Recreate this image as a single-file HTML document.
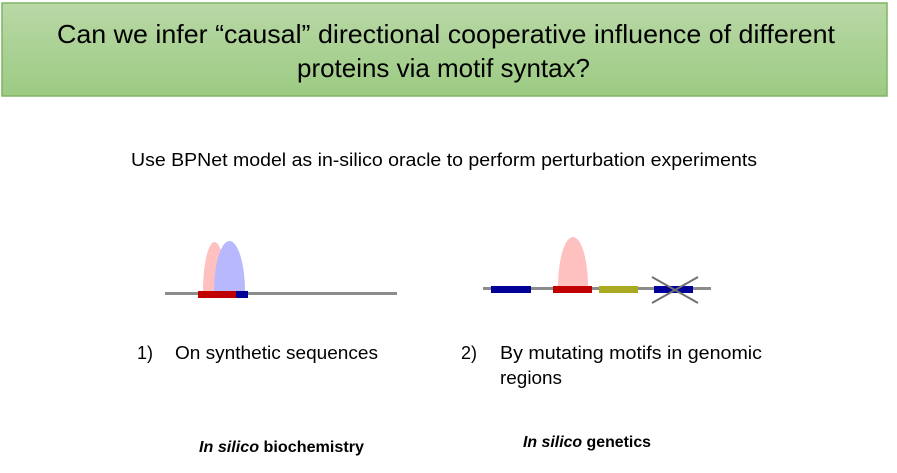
<!DOCTYPE html>
<html><head><meta charset="utf-8"><style>
html,body{margin:0;padding:0;background:#fff;}
svg{display:block;font-family:"Liberation Sans",sans-serif;}
</style></head><body>
<svg width="897" height="473" viewBox="0 0 897 473">
<defs><linearGradient id="g" x1="0" y1="0" x2="0" y2="1"><stop offset="0" stop-color="#b9d8a6"/><stop offset="1" stop-color="#9ccb83"/></linearGradient></defs>
<g>
<rect x="2" y="3" width="885" height="93" fill="url(#g)" stroke="#7fb562" stroke-width="1.5"/>
<text x="57" y="43" font-size="26" textLength="778" lengthAdjust="spacingAndGlyphs">Can we infer “causal” directional cooperative influence of different</text>
<text x="297" y="77" font-size="26" textLength="293" lengthAdjust="spacingAndGlyphs">proteins via motif syntax?</text>
</g>
<text x="131" y="166" font-size="18" textLength="626" lengthAdjust="spacingAndGlyphs">Use BPNet model as in-silico oracle to perform perturbation experiments</text>
<g>
<path d="M203,292 A11.5,50 0 0 1 226,292Z" fill="#ffc0c0"/>
<path d="M214,292 A15.5,51 0 0 1 245,292Z" fill="#b8b8ff"/>
<rect x="165" y="292" width="232" height="3" fill="#8c8c8c"/>
<rect x="198" y="291" width="38" height="7" fill="#c00000"/>
<rect x="236" y="291" width="12" height="7" fill="#000099"/>
</g>
<g>
<path d="M558,287 A15,50 0 0 1 588,287Z" fill="#ffc0c0"/>
<rect x="483" y="287" width="228" height="3" fill="#8c8c8c"/>
<rect x="491" y="286" width="40" height="7" fill="#000099"/>
<rect x="553" y="286" width="39" height="7" fill="#c00000"/>
<rect x="599" y="286" width="39" height="7" fill="#aaaa22"/>
<rect x="654" y="286" width="39" height="7" fill="#000099"/>
<line x1="652" y1="277" x2="698" y2="303" stroke="#707070" stroke-width="2"/>
<line x1="652" y1="303" x2="698" y2="277" stroke="#707070" stroke-width="2"/>
</g>
<text x="137" y="359" font-size="18">1)</text>
<text x="175" y="359" font-size="18" textLength="203" lengthAdjust="spacingAndGlyphs">On synthetic sequences</text>
<text x="461" y="359" font-size="18">2)</text>
<text x="500" y="359" font-size="18" textLength="262" lengthAdjust="spacingAndGlyphs">By mutating motifs in genomic</text>
<text x="500" y="384" font-size="18" textLength="62" lengthAdjust="spacingAndGlyphs">regions</text>
<text x="199" y="452" font-size="16" font-weight="bold" textLength="165" lengthAdjust="spacingAndGlyphs"><tspan font-style="italic">In silico</tspan> biochemistry</text>
<text x="523" y="447" font-size="16" font-weight="bold" textLength="128" lengthAdjust="spacingAndGlyphs"><tspan font-style="italic">In silico</tspan> genetics</text>
</svg>
</body></html>
